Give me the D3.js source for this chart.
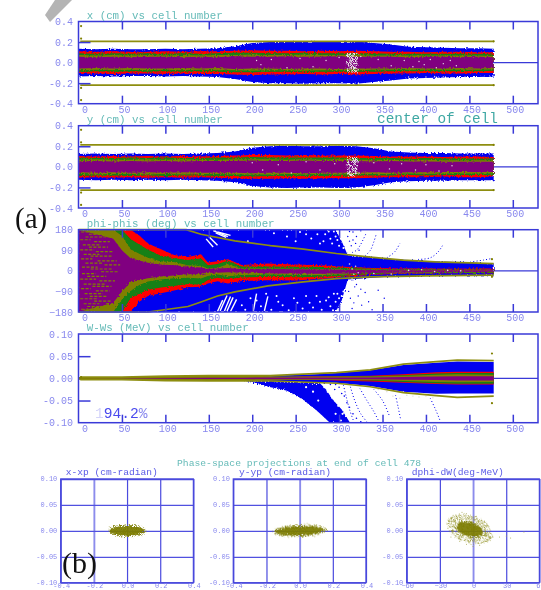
<!DOCTYPE html>
<html lang="en">
<head>
<meta charset="UTF-8">
<script src="https://d3js.org/d3.v7.min.js"></script>
<title>Beam envelopes vs cell number</title>
<style>
    html, body { margin: 0; padding: 0; background: #fff; overflow: hidden; }
    svg { display: block; filter: blur(0.35px); }
    text { font-family: "Liberation Mono", monospace; }
    .axis text { fill: #8888ee; font-size: 10px; font-family: "Liberation Mono", monospace; }
    .title { fill: #66bbb8; font-size: 10.8px; }
    .frame { fill: none; stroke: #3a3ad8; stroke-width: 1.5; }
</style>
</head>
<body>
<script>
    // ---- data ----
    const cellTicks = [0, 50, 100, 150, 200, 250, 300, 350, 400, 450, 500];
    const sampleCells = [0, 20, 40, 60, 80, 100, 120, 140, 160, 180, 200, 220, 240, 260, 280, 300, 320, 340, 360, 380, 400, 420, 440, 460, 478];

    // x panel, half widths of the bands (cm)
    const xBlue = [.135, .13, .135, .13, .13, .135, .13, .135, .14, .16, .19, .2, .2, .205, .2, .2, .205, .19, .175, .155, .15, .145, .14, .14, .135];
    const xRed = [.11, .105, .11, .105, .105, .11, .105, .11, .11, .115, .12, .115, .115, .11, .115, .11, .115, .11, .105, .105, .1, .105, .105, .1, .1];
    const xGreen = [.09, .085, .09, .085, .09, .085, .09, .085, .09, .095, .095, .09, .09, .095, .09, .09, .09, .09, .085, .085, .085, .085, .085, .085, .08];
    const xOlive = [.075, .07, .075, .07, .075, .07, .075, .07, .075, .075, .08, .075, .075, .08, .075, .075, .075, .07, .07, .07, .07, .07, .07, .07, .065];
    const xPurple = [.057, .052, .057, .052, .057, .057, .052, .057, .052, .062, .057, .057, .062, .057, .057, .062, .057, .057, .057, .052, .057, .057, .052, .057, .052];
    const xEnvUp = [.207, .207, .207, .207, .207, .207];
    const xEnvLow = [-.22, -.22, -.22, -.22, -.22, -.22];
    const envCells = [2, 100, 200, 300, 400, 478];
    const xMarks = [[3, .355], [3, .234], [3, -.246], [3, -.365], [478, .207], [478, -.22]];
    const xSpeck = [[310, .08], [312, .05], [313, .02], [311, -.03], [314, -.06], [316, .07], [317, .03], [318, -.01], [315, -.08], [319, -.05], [309, 0], [321, .04], [322, -.07], [325, .06], [205, .02], [210, -.02], [222, .03], [240, -.05], [255, .04], [270, -.04], [285, .02], [300, .05], [345, .03], [360, -.03], [375, .02], [385, -.04], [392, .01], [398, -.02], [405, .03], [412, -.05], [420, -.01], [428, .02], [435, -.03], [380, -.14], [390, -.145], [400, -.14], [410, -.135], [420, -.14], [430, -.145], [445, -.14]];

    // y panel
    const yBlue = [.125, .13, .125, .13, .125, .13, .125, .13, .135, .15, .185, .2, .205, .2, .2, .205, .2, .18, .15, .14, .135, .135, .13, .13, .13];
    const yRed = [.105, .1, .105, .1, .105, .1, .105, .1, .105, .11, .115, .115, .11, .115, .11, .11, .11, .105, .1, .1, .1, .095, .1, .1, .095];
    const yGreen = [.09, .085, .085, .09, .085, .09, .085, .085, .09, .09, .095, .09, .09, .09, .09, .09, .085, .085, .085, .08, .085, .08, .08, .08, .08];
    const yOlive = [.07, .075, .07, .07, .075, .07, .075, .07, .07, .075, .075, .075, .07, .075, .07, .075, .07, .07, .07, .065, .07, .065, .065, .065, .065];
    const yPurple = [.052, .057, .052, .057, .052, .057, .052, .057, .057, .057, .062, .057, .057, .062, .057, .057, .057, .052, .057, .052, .052, .05, .05, .05, .05];
    const yEnvUp = [.213, .213, .213, .213, .213, .213];
    const yEnvLow = [-.226, -.226, -.226, -.226, -.226, -.226];
    const yMarks = [[3, .36], [3, .238], [3, -.25], [3, -.37], [478, .213], [478, -.226]];
    const ySpeck = [[310, .07], [311, .04], [313, .01], [312, -.04], [314, -.07], [316, .06], [317, .02], [318, -.02], [315, -.09], [319, -.05], [309, .02], [322, .05], [323, -.06], [200, .04], [212, -.03], [230, .02], [245, -.06], [262, .05], [278, -.03], [295, .03], [340, .04], [358, -.02], [372, .03], [388, -.03], [400, .02], [415, -.04], [430, .01]];

    // phi panel
    const phiTicks = [180, 90, 0, -90, -180];
    const phiCells = [0, 40, 50, 60, 70, 80, 95, 110, 126, 141, 149, 160, 172, 188, 218, 250, 280, 310, 340, 370, 400, 430, 460, 478];
    const phiRedUp = [180, 180, 180, 180, 155, 120, 95, 69, 61, 73, 36, 42, 51, 26, 32, 28, 25, 17, 13, 10, 10, 9, 10, 10];
    const phiRedLow = [-180, -180, -180, -180, -135, -110, -98, -86, -72, -70, -55, -46, -55, -44, -41, -42, -35, -25, -17, -13, -12, -11, -11, -10];
    const phiGreenUp = [180, 180, 180, 139, 115, 92, 66, 55, 47, 54, 25, 30, 44, 19, 19, 18, 17, 12, 9, 7, 7, 6, 6, 6];
    const phiGreenLow = [-180, -180, -180, -120, -100, -83, -73, -66, -58, -61, -40, -30, -36, -29, -26, -28, -26, -20, -14, -11, -10, -9, -9, -8];
    const phiOliveUp = [180, 180, 153, 95, 75, 57, 41, 39, 25, 22, 10, 14, 29, 10, 10, 9, 8, 7, 6, 5, 5, 4, 4, 4];
    const phiOliveLow = [-180, -180, -125, -88, -62, -47, -38, -32, -30, -33, -22, -16, -24, -18, -16, -18, -18, -16, -11, -9, -8, -7, -7, -6];
    const phiPurpleUp = [180, 140, 90, 55, 45, 35, 28, 25, 18, 15, 8, 10, 12, 8, 8, 7, 6, 5, 4, 3, 3, 3, 3, 3];
    const phiPurpleLow = [-180, -140, -90, -50, -40, -32, -25, -20, -15, -14, -8, -8, -6, -8, -10, -13, -13, -12, -9, -7, -6, -5, -5, -4];
    const phiBlueCells = [0, 296, 303, 310, 356, 394, 451, 478];
    const phiBlueUp = [180, 180, 130, 68, 53, 44, 37, 32];
    const phiBlueLow = [-180, -180, -130, -38, -26, -22, -20, -19];
    const phiEnvUpCells = [0, 124, 141, 180, 218, 221, 259, 297, 336, 374, 411, 451, 478];
    const phiEnvUp = [180, 180, 160, 131, 112, 110, 95, 76, 60, 47, 39, 35, 32];
    const phiEnvLowCells = [0, 80, 126, 141, 160, 180, 218, 259, 297, 336, 400, 478];
    const phiEnvLow = [-180, -180, -156, -136, -110, -92, -66, -48, -34, -26, -22, -19];
    const phiMarks = [[476, 51], [476, -26]];
    // olive dashes in the purple part: [from cell, to cell, deg]
    const phiDashes = [[3, 20, 170], [12, 36, 160], [8, 30, 148], [2, 14, 136], [18, 36, 128], [5, 26, 114], [12, 34, 104], [2, 18, 92], [20, 40, 84], [6, 24, 72], [14, 38, 64], [3, 16, 52], [22, 44, 44], [8, 28, 34], [30, 48, 26], [4, 22, 16], [14, 40, 8], [26, 46, -4], [4, 20, -12], [10, 32, -24], [2, 20, -36], [24, 42, -44], [6, 30, -58], [16, 38, -68], [3, 14, -78], [20, 36, -88], [7, 28, -100], [13, 32, -112], [2, 22, -122], [18, 38, -132], [6, 24, -144], [10, 34, -156], [3, 22, -168]];
    // white strokes in the blue part: [cell, deg, cell, deg]
    const phiFans = [[155, 176, 172, 150], [160, 170, 175, 155], [158, 166, 170, 146], [150, 150, 160, 112], [147, 140, 155, 104], [160, -178, 166, -128], [163, -175, 171, -108], [168, -176, 175, -112], [171, -176, 178, -116], [175, -178, 182, -125], [201, -180, 205, -100], [214, -175, 218, -112]];
    const phiWhite = [[195, 130], [225, 165], [240, 150], [255, 170], [268, 142], [275, 160], [282, 130], [288, 172], [292, 120], [296, 150], [299, 165], [302, 140], [304, 175], [306, 120], [308, 160], [311, 100], [313, 140], [315, 170], [205, -130], [222, -170], [235, -150], [248, -120], [258, -165], [266, -140], [274, -110], [280, -170], [285, -130], [290, -155], [294, -100], [297, -175], [300, -120], [302, -150], [305, -90], [307, -170], [310, -130], [312, -60], [314, -150], [316, -100], [188, -150], [230, -135],
        [192, -170], [198, -120], [210, -155], [216, -100], [228, -110], [242, -172], [252, -140], [262, -110], [270, -160], [278, -135], [288, -115], [293, -172], [296, -135], [298, -100], [301, -165], [303, -110], [304, -135], [306, -145], [298, 135], [300, 110], [301, 150], [303, 172], [305, 100], [306, 150], [294, 172], [290, 140], [284, 160], [278, 120], [262, 160], [250, 130]];
    const phiBlueDots = [[316, 170], [320, 150], [312, 130], [325, 175], [319, 120], [323, 90], [318, -70], [322, -110], [326, -150], [330, -95], [334, -135], [338, -170], [345, -85], [352, -120], [310, 150], [312, 172], [314, 110], [316, 135], [311, -90], [313, -120], [315, -165], [317, -140], [320, -60], [325, -80]];
    const phiWhiteOnCore = [[312, 30], [315, 8], [317, -15], [319, 20], [322, -8], [340, -12], [360, -14], [380, 2], [395, 5], [410, -3], [425, 2], [440, 0]];
    // dotted particle trails: one list per trail, [cell, deg]
    const phiTrails = [
        [[315, 80], [320, 90], [324, 110], [328, 139], [331, 163]],
        [[330, 66], [336, 90], [340, 127], [343, 163]],
        [[355, 57], [364, 83], [370, 120]],
        [[391, 50], [405, 57], [414, 83], [419, 110]],
        [[451, 39], [466, 47], [476, 54]]
    ];

    // W panel
    const wTicks = [0.1, 0.05, 0, -0.05, -0.1];
    const wCells = [0, 50, 100, 150, 190, 221, 240, 259, 278, 297, 336, 374, 412, 436, 478];
    const wBlueUp = [.002, .002, .004, .005, .006, .005, .007, .008, .01, .012, .018, .03, .035, .038, .037];
    const wBlueLow = [-.002, -.002, -.003, -.004, -.005, -.006, -.007, -.008, -.009, -.01, -.017, -.03, -.035, -.034, -.034];
    const wRedUp = [.001, .001, .001, .002, .002, .003, .003, .004, .004, .005, .006, .0095, .014, .015, .015];
    const wRedLow = [-.001, -.001, -.001, -.002, -.002, -.003, -.003, -.004, -.004, -.005, -.007, -.01, -.013, -.014, -.014];
    const wGreenUp = [.001, .001, .001, .0015, .002, .002, .002, .003, .003, .004, .005, .007, .011, .012, .012];
    const wGreenLow = [-.001, -.001, -.001, -.0015, -.002, -.002, -.002, -.003, -.003, -.004, -.005, -.008, -.011, -.012, -.012];
    const wOliveUp = [.003, .003, .005, .006, .006, .005, .004, .004, .004, .004, .004, .006, .008, .009, .008];
    const wOliveLow = [-.003, -.003, -.005, -.006, -.006, -.005, -.004, -.004, -.004, -.004, -.004, -.006, -.008, -.009, -.008];
    const wPurpleUp = [0, .0002, .0008, .0012, .0015, .002, .002, .002, .002, .002, .002, .003, .004, .005, .005];
    const wPurpleLow = [0, -.0002, -.0008, -.0012, -.0015, -.002, -.002, -.002, -.002, -.002, -.002, -.003, -.004, -.005, -.005];
    const wEnvUpCells = [2, 50, 100, 150, 190, 221, 297, 336, 374, 412, 436, 478];
    const wEnvUp = [.003, .003, .005, .006, .006, .006, .0128, .019, .032, .0376, .041, .04];
    const wEnvLow = [-.003, -.003, -.005, -.006, -.006, -.006, -.011, -.019, -.032, -.039, -.043, -.04];
    const wTail = [[190, -.005], [205, -.012], [221, -.02], [232, -.024], [240, -.028], [250, -.038], [259, -.049], [270, -.066], [278, -.079], [290, -.101], [313, -.101], [303, -.07], [293, -.049], [285, -.025], [278, -.011], [250, -.008], [190, -.004]];
    const wMarks = [[3, .003], [476, .056], [476, -.056]];
    const wWhite = [[283, -.02], [287, -.016], [290, -.03], [294, -.022], [297, -.04], [300, -.03], [287, -.03], [292, -.044], [302, -.05], [299, -.062], [305, -.07], [308, -.085], [304, -.08], [270, -.03], [276, -.05], [262, -.02], [296, -.08], [302, -.095]];
    const wBlueDots = [[283, -.011], [290, -.014], [296, -.014], [300, -.02], [295, -.025], [303, -.034], [306, -.04], [309, -.055], [312, -.065], [316, -.08], [320, -.09], [325, -.098]];
    const wTrails = [
        [[305, -.015], [308, -.04], [312, -.07], [317, -.098]],
        [[313, -.019], [318, -.05], [325, -.08], [332, -.098]],
        [[324, -.023], [332, -.05], [340, -.075], [345, -.094]],
        [[340, -.025], [350, -.05], [358, -.085]],
        [[365, -.038], [368, -.065], [371, -.094]],
        [[405, -.045], [411, -.07], [416, -.094]]
    ];
    const wPale = [[345, -.025], [355, -.03], [362, -.04], [370, -.045], [378, -.038], [385, -.04], [392, -.042], [400, -.04], [408, -.044], [374, -.03], [390, -.034]];

    // phase-space panels
    const xpTicks = [-0.4, -0.2, 0, 0.2, 0.4];
    const phiEndTicks = [-60, -30, 0, 30, 60];
    const dyTicks = [0.1, 0.05, 0, -0.05, -0.1];
    const softLines = [[-0.2], [0], [0]];
    const cloudCentreX = [0, 0, -3];
    const cloudCentreY = [0, 0, 0.003];
    const cloudRadiusX = [0.105, 0.145, 12];
    const cloudRadiusY = [0.0095, 0.009, 0.014];
    const cloudTilt = [0, -2, 16];
    const cloudFringeX = [0.118, 0.165, 21];
    const cloudFringeY = [0.0125, 0.0125, 0.026];
    const dphiStray = [[-22, .018], [-20, -.012], [-15, .028], [-18, .03], [-10, .036], [-6, .033], [3, .028], [8, .02], [14, -.006], [18, -.012], [24, -.012], [30, -.01], [34, -.014], [12, -.02], [6, -.028], [0, -.03], [-6, -.026], [-12, -.02], [62, -.02], [46, -.002]];

    // ---- drawing ----
    const COL = { blue: '#0000f0', red: '#ff0000', green: '#128012', olive: '#808000', purple: '#800080', axis: '#3a3ad8' };

    const svg = d3.select('body').append('svg').attr('width', 541).attr('height', 590);

    const defs = svg.append('defs');
    const rough = defs.append('filter').attr('id', 'rough')
        .attr('x', '-5%').attr('y', '-20%').attr('width', '110%').attr('height', '140%');
    rough.append('feTurbulence').attr('type', 'fractalNoise').attr('baseFrequency', 0.55).attr('numOctaves', 2).attr('seed', 4).attr('result', 'n');
    rough.append('feDisplacementMap').attr('in', 'SourceGraphic').attr('in2', 'n').attr('scale', 3.5);

    const grain = defs.append('filter').attr('id', 'grain')
        .attr('x', '-30%').attr('y', '-60%').attr('width', '160%').attr('height', '220%');
    grain.append('feTurbulence').attr('type', 'fractalNoise').attr('baseFrequency', 0.9).attr('numOctaves', 2).attr('seed', 9).attr('result', 'n');
    grain.append('feDisplacementMap').attr('in', 'SourceGraphic').attr('in2', 'n').attr('scale', 6);

    // punches holes in a fill, for the thin fringes and the pale patch
    const speck = defs.append('filter').attr('id', 'speck')
        .attr('x', '-30%').attr('y', '-60%').attr('width', '160%').attr('height', '220%');
    speck.append('feTurbulence').attr('type', 'fractalNoise').attr('baseFrequency', 1.1).attr('numOctaves', 1).attr('seed', 5).attr('result', 'n');
    speck.append('feColorMatrix').attr('in', 'n').attr('type', 'matrix')
        .attr('values', '0 0 0 0 0  0 0 0 0 0  0 0 0 0 0  7 0 0 0 -3.2').attr('result', 'm');
    speck.append('feComposite').attr('in', 'SourceGraphic').attr('in2', 'm').attr('operator', 'in').attr('result', 'c');
    speck.append('feDisplacementMap').attr('in', 'c').attr('in2', 'n').attr('scale', 5);

    // grey wedge at the top left of the scan
    svg.append('path').attr('d', 'M45,15L55,0L72,0L50,22Z').attr('fill', '#b4b4b4');

    const panelLeft = 78.5, panelRight = 538;
    const cellX = d3.scaleLinear().domain([0, 529]).range([panelLeft, panelRight]);

    let clipId = 0;

    function timePanel(cfg) {
        const y = d3.scaleLinear().domain(cfg.domain).range([cfg.bottom, cfg.top]);
        const g = svg.append('g');
        const id = 'clip' + (clipId++);
        defs.append('clipPath').attr('id', id).append('rect')
            .attr('x', panelLeft).attr('y', cfg.top).attr('width', panelRight - panelLeft).attr('height', cfg.bottom - cfg.top);

        // zero line, runs under the bands
        g.append('line').attr('x1', panelLeft).attr('x2', panelRight).attr('y1', y(0)).attr('y2', y(0))
            .attr('stroke', COL.axis).attr('stroke-width', 1.2);

        const marks = g.append('g').attr('clip-path', `url(#${id})`);
        const bands = marks.append('g').attr('filter', cfg.smooth ? null : 'url(#rough)');
        cfg.bands.forEach((b) => {
            const area = d3.area()
                .x((d, i) => cellX(b.cells[i]))
                .y1((d, i) => y(b.up[i]))
                .y0((d, i) => y(b.low ? b.low[i] : -b.up[i]));
            bands.append('path').attr('d', area(b.up)).attr('fill', b.color);
        });
        if (cfg.extra) cfg.extra(marks, y);

        const lineGen = d3.line().x((d) => cellX(d[0])).y((d) => y(d[1]));
        cfg.envelopes.forEach((e) => {
            g.append('path').attr('d', lineGen(e.cells.map((c, i) => [c, e.vals[i]])))
                .attr('fill', 'none').attr('stroke', '#8e8e10').attr('stroke-width', 1.7);
        });
        g.selectAll('circle.mark').data(cfg.marks).join('circle').attr('class', 'mark')
            .attr('cx', (d) => cellX(d[0])).attr('cy', (d) => y(d[1])).attr('r', 1.1).attr('fill', COL.olive);

        // ticks pointing inward, on top and bottom
        const inner = cellTicks.slice(1);
        g.append('g').attr('transform', `translate(0,${cfg.top})`)
            .call(d3.axisBottom(cellX).tickValues(inner).tickSize(8).tickFormat(''))
            .call((a) => a.select('.domain').remove())
            .call((a) => a.selectAll('line').attr('stroke', COL.axis).attr('stroke-width', 1.5));
        g.append('g').attr('transform', `translate(0,${cfg.bottom})`)
            .call(d3.axisTop(cellX).tickValues(inner).tickSize(8).tickFormat(''))
            .call((a) => a.select('.domain').remove())
            .call((a) => a.selectAll('line').attr('stroke', COL.axis).attr('stroke-width', 1.5));
        if (cfg.sideTicks) {
            g.append('g').attr('transform', `translate(${panelLeft},0)`)
                .call(d3.axisRight(y).tickValues(cfg.sideTicks).tickSize(12).tickFormat(''))
                .call((a) => a.select('.domain').remove())
                .call((a) => a.selectAll('line').attr('stroke', COL.axis).attr('stroke-width', 1.5));
        }

        g.append('rect').attr('class', 'frame').attr('x', panelLeft).attr('y', cfg.top)
            .attr('width', panelRight - panelLeft).attr('height', cfg.bottom - cfg.top);

        // tick labels
        g.append('g').attr('class', 'axis').attr('transform', `translate(${panelLeft - 5.5},0)`)
            .call(d3.axisLeft(y).tickValues(cfg.ticks).tickSize(0).tickFormat(cfg.format))
            .call((a) => a.select('.domain').remove())
            .call((a) => a.selectAll('text').attr('x', 0).attr('dy', '0.3em'));
        g.append('g').attr('class', 'axis').attr('transform', `translate(0,${cfg.bottom + 5})`)
            .call(d3.axisBottom(cellX).tickValues(cellTicks).tickSize(0).tickFormat(d3.format('d')))
            .call((a) => a.select('.domain').remove())
            .call((a) => a.selectAll('text').attr('y', 0).attr('dy', '0.4em').attr('dx', (d) => d === 0 ? 6 : 2));

        g.append('text').attr('class', 'title').attr('x', 86.7).attr('y', cfg.top - 2.6).text(cfg.title);
    }

    function dots(sel, y, list, color, r) {
        sel.append('g').selectAll('circle').data(list).join('circle')
            .attr('cx', (d) => cellX(d[0])).attr('cy', (d) => y(d[1])).attr('r', r).attr('fill', color);
    }

    function trails(sel, y, list) {
        const trail = d3.line().curve(d3.curveCatmullRom).x((d) => cellX(d[0])).y((d) => y(d[1]));
        sel.append('g').selectAll('path').data(list).join('path').attr('d', trail)
            .attr('fill', 'none').attr('stroke', COL.blue).attr('stroke-width', 1)
            .attr('stroke-dasharray', '1 2.2');
    }

    const fmt1 = d3.format('.1f'), fmt2 = d3.format('.2f');
    function minus(f) { return (d) => f(d).replace('−', '-'); }

    function standardBands(blue, red, green, olive, purple) {
        return [
            { cells: sampleCells, up: blue, color: COL.blue },
            { cells: sampleCells, up: red, color: COL.red },
            { cells: sampleCells, up: green, color: COL.green },
            { cells: sampleCells, up: olive, color: COL.olive },
            { cells: sampleCells, up: purple, color: COL.purple }
        ];
    }

    const patchCells = [309, 321];
    function palePatch(sel, y) {
        sel.append('rect').attr('x', cellX(patchCells[0])).attr('width', cellX(patchCells[1]) - cellX(patchCells[0]))
            .attr('y', y(0.095)).attr('height', y(-0.095) - y(0.095)).attr('fill', '#e6e2e6').attr('filter', 'url(#speck)');
    }

    timePanel({
        top: 21.5, bottom: 103.7, domain: [-0.4, 0.4], ticks: [0.4, 0.2, 0, -0.2, -0.4], format: minus(fmt1),
        title: 'x (cm) vs cell number', sideTicks: [0.2, -0.2],
        bands: standardBands(xBlue, xRed, xGreen, xOlive, xPurple),
        envelopes: [{ cells: envCells, vals: xEnvUp }, { cells: envCells, vals: xEnvLow }],
        marks: xMarks,
        extra: (sel, y) => { palePatch(sel, y); dots(sel, y, xSpeck, '#e2dce6', 0.7); }
    });

    timePanel({
        top: 125.7, bottom: 208, domain: [-0.4, 0.4], ticks: [0.4, 0.2, 0, -0.2, -0.4], format: minus(fmt1),
        title: 'y (cm) vs cell number', sideTicks: [0.2, -0.2],
        bands: standardBands(yBlue, yRed, yGreen, yOlive, yPurple),
        envelopes: [{ cells: envCells, vals: yEnvUp }, { cells: envCells, vals: yEnvLow }],
        marks: yMarks,
        extra: (sel, y) => { palePatch(sel, y); dots(sel, y, ySpeck, '#e2dce6', 0.7); }
    });

    timePanel({
        top: 229.7, bottom: 312, domain: [-180, 180], ticks: phiTicks, format: d3.format('d'),
        title: 'phi-phis (deg) vs cell number',
        bands: [
            { cells: phiBlueCells, up: phiBlueUp, low: phiBlueLow, color: COL.blue },
            { cells: phiCells, up: phiRedUp, low: phiRedLow, color: COL.red },
            { cells: phiCells, up: phiGreenUp, low: phiGreenLow, color: COL.green },
            { cells: phiCells, up: phiOliveUp, low: phiOliveLow, color: COL.olive },
            { cells: phiCells, up: phiPurpleUp, low: phiPurpleLow, color: COL.purple }
        ],
        envelopes: [{ cells: phiEnvUpCells, vals: phiEnvUp }, { cells: phiEnvLowCells, vals: phiEnvLow }],
        marks: phiMarks,
        extra: (sel, y) => {
            sel.append('g').selectAll('line').data(phiDashes).join('line')
                .attr('x1', (d) => cellX(d[0])).attr('x2', (d) => cellX(d[1]))
                .attr('y1', (d) => y(d[2])).attr('y2', (d) => y(d[2]))
                .attr('stroke', COL.olive).attr('stroke-width', 1.2).attr('stroke-dasharray', '3 1.5');
            sel.append('g').selectAll('line').data(phiFans).join('line')
                .attr('x1', (d) => cellX(d[0])).attr('y1', (d) => y(d[1]))
                .attr('x2', (d) => cellX(d[2])).attr('y2', (d) => y(d[3]))
                .attr('stroke', '#fff').attr('stroke-width', 1.4);
            dots(sel, y, phiWhite, '#fff', 1);
            dots(sel, y, phiBlueDots, COL.blue, 0.7);
            dots(sel, y, phiWhiteOnCore, '#ddd6e0', 0.8);
            trails(sel, y, phiTrails);
        }
    });

    timePanel({
        top: 334, bottom: 422.7, domain: [-0.1, 0.1], ticks: wTicks, format: minus(fmt2),
        title: 'W-Ws (MeV) vs cell number', sideTicks: [0.05, -0.05], smooth: true,
        bands: [
            { cells: wCells, up: wBlueUp, low: wBlueLow, color: COL.blue },
            { cells: wCells, up: wRedUp, low: wRedLow, color: COL.red },
            { cells: wCells, up: wGreenUp, low: wGreenLow, color: COL.green },
            { cells: wCells, up: wOliveUp, low: wOliveLow, color: COL.olive },
            { cells: wCells, up: wPurpleUp, low: wPurpleLow, color: COL.purple }
        ],
        envelopes: [{ cells: wEnvUpCells, vals: wEnvUp }, { cells: wEnvUpCells, vals: wEnvLow }],
        marks: wMarks,
        extra: (sel, y) => {
            sel.insert('path', ':first-child')
                .attr('d', d3.line().curve(d3.curveLinear).x((d) => cellX(d[0])).y((d) => y(d[1]))(wTail) + 'Z')
                .attr('fill', COL.blue).attr('filter', 'url(#grain)');
            dots(sel, y, wWhite, '#fff', 1.1);
            dots(sel, y, wBlueDots, COL.blue, 0.8);
            dots(sel, y, wPale, '#d8d8d0', 0.7);
            trails(sel, y, wTrails);
        }
    });

    svg.append('text').attr('x', 377).attr('y', 123).attr('fill', '#3fa8a4').attr('font-size', 14.4).text('center of cell');

    const pct = svg.append('text').attr('x', 95).attr('y', 418).attr('font-size', 14.6);
    pct.append('tspan').attr('fill', '#d4d4fa').text('1');
    pct.append('tspan').attr('fill', '#4a4aee').text('94.2');
    pct.append('tspan').attr('fill', '#8888ee').text('%');

    // phase-space projections
    const scatterPanels = [
        { left: 60.7, title: 'x-xp (cm-radian)', titleX: 65.7, xDomain: [-0.4, 0.4], xTicks: xpTicks, xFmt: minus(fmt1) },
        { left: 233.3, title: 'y-yp (cm-radian)', titleX: 239, xDomain: [-0.4, 0.4], xTicks: xpTicks, xFmt: minus(fmt1) },
        { left: 406.7, title: 'dphi-dW(deg-MeV)', titleX: 411.7, xDomain: [-60, 60], xTicks: phiEndTicks, xFmt: d3.format('d') }
    ];
    const scatterTop = 479, scatterBottom = 582.7, scatterWidth = 132.7;

    scatterPanels.forEach((p, k) => {
        const x = d3.scaleLinear().domain(p.xDomain).range([p.left, p.left + scatterWidth]);
        const y = d3.scaleLinear().domain([-0.1, 0.1]).range([scatterBottom, scatterTop]);
        const g = svg.append('g');

        g.append('g').attr('transform', `translate(0,${scatterBottom})`)
            .call(d3.axisBottom(x).tickValues(p.xTicks).tickSize(scatterTop - scatterBottom).tickFormat(''))
            .call((a) => a.select('.domain').remove())
            .call((a) => a.selectAll('line')
                .attr('stroke', (d) => softLines[k].includes(d) ? '#8c8cec' : '#4a4ade')
                .attr('stroke-width', (d) => softLines[k].includes(d) ? 1.9 : 1.2));
        g.append('g').attr('transform', `translate(${p.left},0)`)
            .call(d3.axisRight(y).tickValues(dyTicks).tickSize(scatterWidth).tickFormat(''))
            .call((a) => a.select('.domain').remove())
            .call((a) => a.selectAll('line').attr('stroke', '#5050e0').attr('stroke-width', 1.3));
        g.append('rect').attr('x', p.left).attr('y', scatterTop).attr('width', scatterWidth)
            .attr('height', scatterBottom - scatterTop).attr('fill', 'none').attr('stroke', '#4848dc').attr('stroke-width', 1.3);

        const cx = x(cloudCentreX[k]), cy = y(cloudCentreY[k]);
        const cloud = g.append('g').attr('transform', `rotate(${cloudTilt[k]},${cx},${cy})`);
        cloud.append('ellipse').attr('cx', cx).attr('cy', cy)
            .attr('rx', x(cloudCentreX[k] + cloudFringeX[k]) - cx).attr('ry', cy - y(cloudCentreY[k] + cloudFringeY[k]))
            .attr('fill', '#8f8f20').attr('opacity', 0.85).attr('filter', 'url(#speck)');
        cloud.append('ellipse').attr('cx', cx).attr('cy', cy)
            .attr('rx', x(cloudCentreX[k] + cloudRadiusX[k]) - cx).attr('ry', cy - y(cloudCentreY[k] + cloudRadiusY[k]))
            .attr('fill', '#7c7c00').attr('opacity', 0.92).attr('filter', 'url(#grain)');
        if (k === 2) {
            g.append('g').selectAll('circle').data(dphiStray).join('circle')
                .attr('cx', (d) => x(d[0])).attr('cy', (d) => y(d[1])).attr('r', 0.5).attr('fill', '#a5a548');
        }

        g.append('g').selectAll('text.xl').data(p.xTicks).join('text').attr('class', 'xl')
            .attr('x', (d) => x(d) + 1).attr('y', 588).attr('text-anchor', 'middle')
            .attr('fill', '#8888ee').attr('font-size', 7).text(p.xFmt);
        g.append('g').selectAll('text.yl').data(dyTicks).join('text').attr('class', 'yl')
            .attr('x', p.left - 3.4).attr('y', (d) => y(d) + 2).attr('text-anchor', 'end')
            .attr('fill', '#8888ee').attr('font-size', 7).text(minus(fmt2));
        g.append('text').attr('x', p.titleX).attr('y', 475).attr('fill', '#5a5ae6').attr('font-size', 9.6).text(p.title);
    });

    svg.append('text').attr('x', 177).attr('y', 465.7).attr('fill', '#66bbb8').attr('font-size', 9.7)
        .text('Phase-space projections at end of cell 478');

    svg.append('text').attr('x', 15).attr('y', 228)
        .style('font-family', '"Liberation Serif", serif').attr('font-size', 29).attr('fill', '#111').text('(a)');
    svg.append('text').attr('x', 62).attr('y', 573)
        .style('font-family', '"Liberation Serif", serif').attr('font-size', 30).attr('fill', '#111').text('(b)');
</script>
</body>
</html>
